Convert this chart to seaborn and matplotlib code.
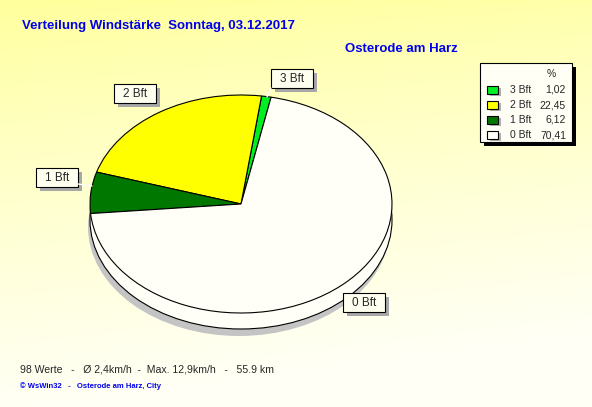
import numpy as np
import matplotlib
matplotlib.use("Agg")
import matplotlib.pyplot as plt
import seaborn as sns
from matplotlib.patches import Ellipse, Rectangle

# Daten
labels = ["3 Bft", "2 Bft", "1 Bft", "0 Bft"]
shares = [1.02, 22.45, 6.12, 70.41]
colors = ["#00ee22", "#ffff00", "#007800", "#fffff8"]
title = "Verteilung Windstärke  Sonntag, 03.12.2017"
place = "Osterode am Harz"
info = "98 Werte   -   Ø 2,4km/h  -  Max. 12,9km/h   -   55.9 km"
footer = "© WsWin32   -   Osterode am Harz, City"

sns.set_style("white")
plt.rcParams['font.family'] = ['Liberation Sans', 'DejaVu Sans']

W, H = 592, 407
fig = plt.figure(figsize=(W / 100, H / 100), dpi=100)

# Hintergrund mit Verlauf
bg = fig.add_axes([0, 0, 1, 1])
yy, xx = np.mgrid[0:H, 0:W]
t = np.clip((yy / H) ** 0.8 + 0.15 * xx / W, 0, 1)
top = np.array([255, 255, 155]) / 255
bot = np.array([255, 255, 245]) / 255
img = top[None, None, :] * (1 - t[..., None]) + bot[None, None, :] * t[..., None]
bg.imshow(img, extent=(0, W, H, 0), aspect='auto')
bg.set_xlim(0, W)
bg.set_ylim(H, 0)
bg.axis('off')

# Torte (elliptisch, mit Seitenwand)
cx, cy, rx, ry, depth = 241, 204, 151, 109, 16
pad_t, pad_b = 10, depth + 25
pax = fig.add_axes([(cx - rx - 10) / W, 1 - (cy + ry + pad_b) / H,
                    (2 * rx + 20) / W, (2 * ry + pad_t + pad_b) / H])
pax.add_patch(Ellipse((-2 / rx, -(depth + 7) / ry), 2, 2, fc='#c4c4c4', ec='none'))
pax.add_patch(Ellipse((0, -depth / ry), 2, 2, fc='#fffff8', ec='black', lw=0.8))
pax.pie(shares, colors=colors, startangle=78.5, counterclock=True,
        wedgeprops=dict(edgecolor='black', linewidth=0.8))
pax.set_aspect('auto')
pax.set_xlim(-(rx + 10) / rx, (rx + 10) / rx)
pax.set_ylim(-(ry + pad_b) / ry, (ry + pad_t) / ry)
pax.axis('off')

# Overlay für Beschriftungen
ov = fig.add_axes([0, 0, 1, 1])
ov.set_xlim(0, W)
ov.set_ylim(H, 0)
ov.axis('off')
ov.patch.set_alpha(0)

ov.text(22, 29, title, color='#0000ee', fontsize=9.5, fontweight='bold', va='baseline')
ov.text(345, 52, place, color='#0000ee', fontsize=9.5, fontweight='bold', va='baseline')

# Leader-Linien
ov.plot([271, 267], [88, 97], color='white', lw=1)
ov.plot([78, 92], [184, 186], color='white', lw=1)

# Label-Kästen
boxes = {"3 Bft": (271, 69), "2 Bft": (114, 84), "1 Bft": (36, 168), "0 Bft": (343, 293)}
for lab in labels:
    x, y = boxes[lab]
    ov.add_patch(Rectangle((x + 4, y + 4), 42, 19, fc='#a8a8a8', ec='none'))
    ov.add_patch(Rectangle((x, y), 42, 19, fc='#fffff0', ec='black', lw=0.8))
    ov.text(x + 21, y + 10, lab, fontsize=8.5, ha='center', va='center')

# Legende
lx, ly, lw_, lh = 480, 63, 92, 79
ov.add_patch(Rectangle((lx + 4, ly + 4), lw_, lh, fc='black', ec='none'))
ov.add_patch(Rectangle((lx, ly), lw_, lh, fc='#fffff5', ec='black', lw=0.8))
ov.text(551, 74, "%", fontsize=7.5, ha='center', va='center')
for i, (lab, val, col) in enumerate(zip(labels, shares, colors)):
    y = 90 + i * 15
    ov.add_patch(Rectangle((490, y - 2), 11, 8, fc='#b0b0b0', ec='none'))
    ov.add_patch(Rectangle((487, y - 4), 11, 8, fc=col, ec='black', lw=0.8))
    ov.text(510, y, lab, fontsize=7.5, va='center')
    ov.text(566, y, f"{val:.2f}".replace('.', ','), fontsize=7.5, va='center', ha='right')

# Fußzeilen
ov.text(20, 373, info, fontsize=7.6, va='baseline')
ov.text(20, 388, footer, fontsize=5.5, fontweight='bold', color='#0000ee', va='baseline')

fig.savefig("out.png", dpi=100)
